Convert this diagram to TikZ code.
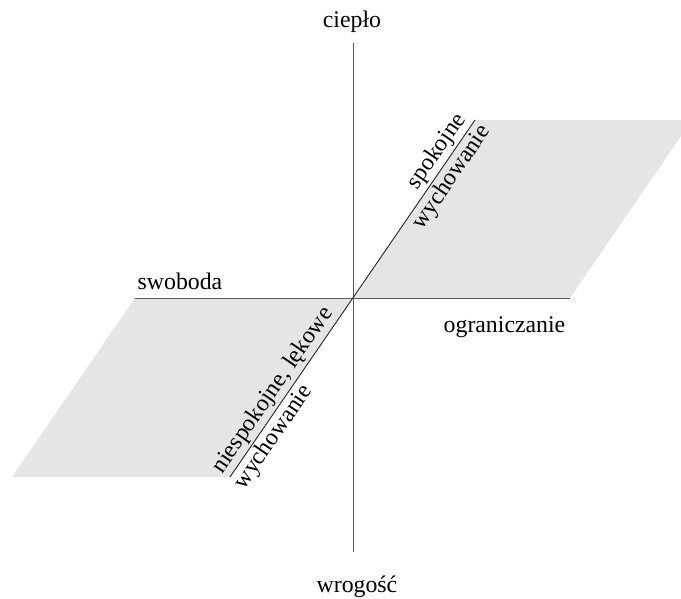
\documentclass[tikz,border=0pt]{standalone}
\usepackage{fontspec}
\setmainfont{Liberation Serif}
\begin{document}
\begin{tikzpicture}[x=1pt,y=-1pt,
  lbl/.style={font=\fontsize{23.8}{28}\selectfont, inner sep=2.5pt},
  plane/.style={fill=black!10, draw=none},
  axis/.style={draw=black!65, line width=0.9pt},
  diag/.style={draw=black!85, line width=0.9pt}]
\useasboundingbox (0,0) rectangle (681,598);
\clip (0,0) rectangle (681,598);
% key points
\coordinate (O) at (353,298);
\coordinate (A) at (475,120);
\coordinate (AR) at (692,120);
\coordinate (R) at (570,298);
\coordinate (L) at (135,298);
\coordinate (BL) at (12,477);
\coordinate (B) at (230,477);
\coordinate (T) at (353,43);
\coordinate (D) at (353,552);
% planes
\fill[plane] (O) -- (A) -- (AR) -- (R) -- cycle;
\fill[plane] (O) -- (L) -- (BL) -- (B) -- cycle;
% axes
\draw[axis] (T) -- (D);
\draw[axis] (L) -- (R);
\draw[diag] (B) -- (A);
% labels
\node[lbl, anchor=base] (cieplo) at (352,27) {ciepło};
\node[lbl, anchor=base] (wrogosc) at (357,592) {wrogość};
\node[lbl, anchor=base west] (swoboda) at (135,289) {swoboda};
\node[lbl, anchor=base west] (ogr) at (441,332) {ograniczanie};
\path (O) -- (A)
  node[lbl, pos=0.78, sloped, above] (spok) {spokojne}
  node[lbl, pos=0.72, sloped, below] (wych1) {wychowanie};
\path (B) -- (O)
  node[lbl, pos=0.44, sloped, above] (niesp) {niespokojne, lękowe}
  node[lbl, pos=0.265, sloped, below] (wych2) {wychowanie};
\end{tikzpicture}
\end{document}
